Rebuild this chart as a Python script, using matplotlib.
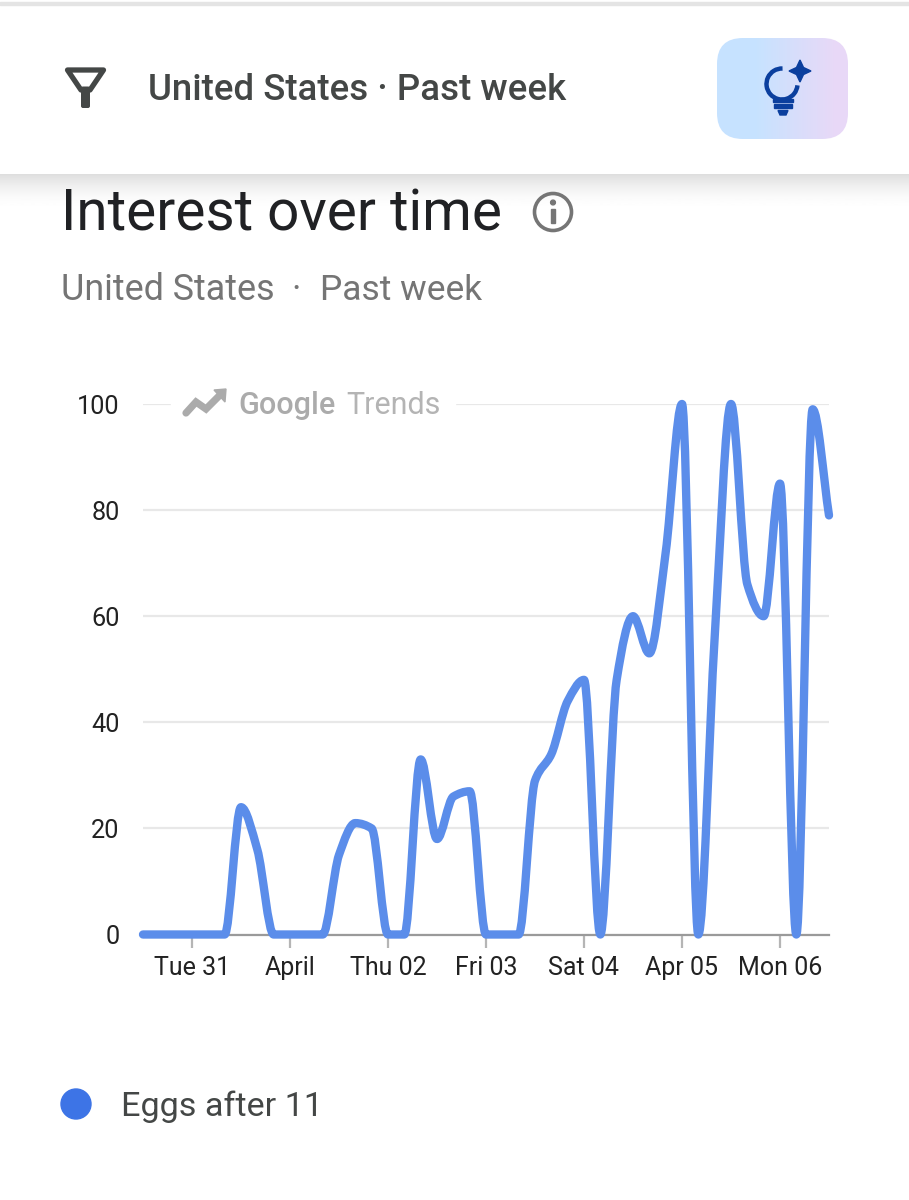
import numpy as np
import matplotlib

matplotlib.use("Agg")
import matplotlib.pyplot as plt
from matplotlib.patches import Circle, FancyBboxPatch, PathPatch, Polygon, Rectangle, Arc
from matplotlib.path import Path

HOURS = [
    -12, -8, -4, 0, 4, 8, 12, 16, 20, 24, 28, 32, 36, 40, 44, 48, 52, 56, 60, 64, 68, 72,
    76, 80, 84, 88, 92, 96, 100, 104, 108, 112, 116, 120, 124, 128, 132, 136, 140, 144,
    148, 152, 156,
]
INTEREST = [
    0, 0, 0, 0, 0, 0, 24, 16, 0, 0, 0, 0, 15, 21, 20, 0, 0, 33, 18, 26, 27, 0,
    0, 0, 29, 34, 44, 48, 0, 48, 60, 53, 72, 100, 0, 56, 100, 66, 60, 85,
    0, 99, 79,
]
X_TICKS = [0, 24, 48, 72, 96, 120, 144]
X_LABELS = ["Tue 31", "April", "Thu 02", "Fri 03", "Sat 04", "Apr 05", "Mon 06"]
Y_TICKS = [0, 20, 40, 60, 80, 100]
SERIES_NAME = "Eggs after 11"

WIDTH, HEIGHT = 909, 1200
LINE_COLOR = "#5b8dea"
FONT = "Roboto"


def monotone_path(xs, ys):
    # same idea as the chart's smoothed line: flat at local extrema, no overshoot
    xs = np.asarray(xs, dtype=float)
    ys = np.asarray(ys, dtype=float)
    h = np.diff(xs)
    slopes = np.diff(ys) / h
    tangents = np.zeros(len(xs))
    tangents[0] = slopes[0]
    tangents[-1] = slopes[-1]
    for i in range(1, len(xs) - 1):
        if slopes[i - 1] * slopes[i] > 0:
            tangents[i] = 2 * slopes[i - 1] * slopes[i] / (slopes[i - 1] + slopes[i])
    vertices = [(xs[0], ys[0])]
    codes = [Path.MOVETO]
    for i in range(len(h)):
        third = h[i] / 3
        vertices.append((xs[i] + third, ys[i] + tangents[i] * third))
        vertices.append((xs[i + 1] - third, ys[i + 1] - tangents[i + 1] * third))
        vertices.append((xs[i + 1], ys[i + 1]))
        codes += [Path.CURVE4] * 3
    return Path(vertices, codes)


def draw_chart(fig):
    ax = fig.add_axes([143 / WIDTH, 1 - 934.5 / HEIGHT, 686 / WIDTH, 530.5 / HEIGHT])
    ax.patch.set_alpha(0)
    ax.set_xlim(HOURS[0], HOURS[-1])
    ax.set_ylim(0, 100)
    for name, spine in ax.spines.items():
        spine.set_visible(name == "bottom")
    ax.spines["bottom"].set_color("#9a9a9a")
    ax.spines["bottom"].set_linewidth(1.6)
    ax.set_xticks(X_TICKS)
    ax.set_xticklabels(X_LABELS, fontsize=18, color="#222222", family=FONT)
    ax.set_yticks(Y_TICKS)
    ax.set_yticklabels(Y_TICKS, fontsize=18.2, color="#222222", family=FONT)
    ax.tick_params(axis="x", length=9, width=1.6, color="#b5b5b5", pad=6.5)
    ax.tick_params(axis="y", length=0, pad=17)
    ax.grid(axis="y", color="#e8e8e8", linewidth=1.6)
    ax.set_axisbelow(True)
    line = PathPatch(
        monotone_path(HOURS, INTEREST),
        facecolor="none",
        edgecolor=LINE_COLOR,
        linewidth=6,
        capstyle="round",
        joinstyle="round",
        clip_on=False,
        zorder=5,
    )
    ax.add_patch(line)
    return ax


def draw_header(ui):
    ui.add_patch(Rectangle((0, 2), WIDTH, 3, color="#e4e4e4"))
    # shadow under the sticky header
    shadow = (np.linspace(1.0, 0.0, 40) ** 2 * 0.13)[:, None]
    ui.imshow(
        shadow, cmap="gray_r", vmin=0, vmax=1, extent=(0, WIDTH, 212, 174),
        aspect="auto", zorder=0,
    )
    # filter icon
    ui.add_patch(Polygon(
        [(67.5, 70), (103.5, 70), (90, 90), (81, 90)],
        closed=True, facecolor="none", edgecolor="#444746", linewidth=3.8, joinstyle="round",
    ))
    ui.add_patch(FancyBboxPatch((82.5, 88), 6, 18.5, boxstyle="round,pad=1.5,rounding_size=2",
                                color="#444746", linewidth=0))
    ui.text(148, 90, "United States · Past week", fontsize=26.4, color="#444746",
            family=FONT, weight="medium", va="center")

    # gradient button
    box = FancyBboxPatch(
        (717 + 26, 38 + 26), 131 - 52, 101 - 52,
        boxstyle="round,pad=26,rounding_size=26", facecolor="none", edgecolor="none",
    )
    ui.add_patch(box)
    left = np.array([0.78, 0.89, 1.0])
    right = np.array([0.91, 0.85, 0.97])
    ramp = np.linspace(0, 1, 131)
    ramp = np.clip((ramp - 0.3) / 0.6, 0, 1)
    gradient = (left[None, :] * (1 - ramp[:, None]) + right[None, :] * ramp[:, None])[None, :, :]
    image = ui.imshow(gradient, extent=(717, 848, 139, 38), aspect="auto", zorder=1)
    image.set_clip_path(box)

    # bulb icon
    blue = "#0b3f9e"
    ui.add_patch(Arc((782, 84), 31, 31, theta1=5, theta2=272, color=blue, linewidth=3.2, zorder=2))
    ui.add_patch(Polygon(
        [(800, 60), (803.5, 67.5), (811, 71), (803.5, 74.5), (800, 82), (796.5, 74.5), (789, 71), (796.5, 67.5)],
        closed=True, color=blue, zorder=2,
    ))
    ui.add_patch(Rectangle((773, 99), 20, 3, color=blue, zorder=2))
    ui.add_patch(Rectangle((774, 104), 18, 4, color=blue, zorder=2))
    ui.add_patch(Polygon([(778, 110.5), (788, 110.5), (786, 115), (780, 115)], color=blue, zorder=2))


def draw_titles(ui):
    ui.text(61, 215, "Interest over time", fontsize=40.8, color="#202124", family=FONT,
            va="center", zorder=3)
    ui.add_patch(Circle((553, 212), 18.5, facecolor="none", edgecolor="#757575", linewidth=2.6, zorder=3))
    ui.add_patch(Rectangle((551, 209), 4, 14, color="#757575", zorder=3))
    ui.add_patch(Circle((553, 202.5), 2.4, color="#757575", zorder=3))
    ui.text(61, 290, "United States", fontsize=25.8, color="#757575", family=FONT, va="center")
    ui.text(296, 290, "·", fontsize=25.8, color="#757575", family=FONT, va="center", ha="center")
    ui.text(320, 290, "Past week", fontsize=25.5, color="#757575", family=FONT, va="center")


def draw_watermark(ui):
    ui.add_patch(Rectangle((171, 390), 284, 30, color="white", zorder=3))
    ui.plot([186, 196, 206, 219], [413, 402, 409, 396], color="#ababab", linewidth=5.2,
            solid_capstyle="round", solid_joinstyle="miter", zorder=4)
    ui.add_patch(Polygon([(214, 390), (226, 389), (225, 402)], color="#ababab", zorder=4))
    ui.text(238, 405, "Google", fontsize=22, color="#ababab", family=FONT, weight="medium",
            va="center", zorder=4)
    ui.text(346, 405, "Trends", fontsize=22, color="#b4b4b4", family=FONT, va="center", zorder=4)


def draw_legend(ui):
    ui.add_patch(Circle((76, 1104), 15, color="#3d74e6"))
    ui.text(121, 1107, SERIES_NAME, fontsize=24.6, color="#444746", family=FONT, va="center")


def main():
    fig = plt.figure(figsize=(WIDTH / 100, HEIGHT / 100), dpi=100, facecolor="white")
    ui = fig.add_axes([0, 0, 1, 1])
    ui.set_axis_off()
    draw_header(ui)
    draw_titles(ui)
    draw_legend(ui)
    ui.set_xlim(0, WIDTH)
    ui.set_ylim(HEIGHT, 0)

    draw_chart(fig)

    # watermark sits on the 100 gridline, under the data line
    top = fig.add_axes([0, 0, 1, 1], zorder=0.5)
    top.patch.set_alpha(0)
    top.set_axis_off()
    top.set_xlim(0, WIDTH)
    top.set_ylim(HEIGHT, 0)
    draw_watermark(top)

    fig.savefig("out.png", dpi=100)
    plt.close(fig)


if __name__ == "__main__":
    main()
